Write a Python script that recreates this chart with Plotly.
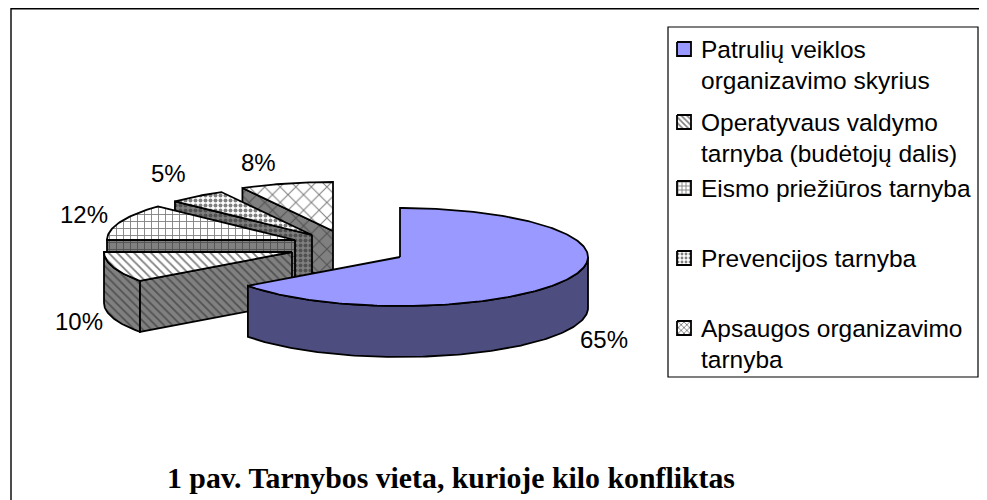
import math
import plotly.graph_objects as go

categories = ["Patrulių veiklos<br>organizavimo skyrius", "Operatyvaus valdymo<br>tarnyba (budėtojų dalis)",
              "Eismo priežiūros tarnyba", "Prevencijos tarnyba", "Apsaugos organizavimo<br>tarnyba"]
values = [65, 10, 12, 5, 8]
labels = ["65%", "10%", "12%", "5%", "8%"]
title = "1 pav. Tarnybos vieta, kurioje kilo konfliktas"

apex_x = [400, 292, 295, 312, 333]
apex_y = [257, 252, 240, 235, 231]
top_colors = ["#9999FF", "#FFFFFF", "#FFFFFF", "#FFFFFF", "#FFFFFF"]
side_colors = ["#4D4D80", "#808080", "#808080", "#808080", "#808080"]
patterns = ["", "\\", "+", ".", "x"]
pattern_sizes = [6, 6, 7, 5, 11]
pattern_solidity = [0.3, 0.3, 0.24, 0.5, 0.18]
label_x = [604, 79, 84, 168, 258]
label_y = [339, 321, 214, 173, 162]
legend_y = [49, 122, 188, 258, 328]

RX, RY, DEPTH = 188, 49, 51
FONT = "Liberation Sans"


def pt(i, deg, drop=0):
    a = math.radians(deg)
    return apex_x[i] + RX * math.sin(a), apex_y[i] - RY * math.cos(a) + drop


def arc(i, a0, a1, drop=0):
    n = max(2, int(abs(a1 - a0)) + 1)
    return [pt(i, a0 + (a1 - a0) * k / (n - 1), drop) for k in range(n)]


def poly(points, fill, pat, size=6, solidity=0.3, fg="#000000", width=1.8):
    xs = [p[0] for p in points] + [points[0][0]]
    ys = [p[1] for p in points] + [points[0][1]]
    kw = {}
    if pat:
        kw["fillpattern"] = dict(shape=pat, bgcolor=fill, fgcolor=fg, size=size, solidity=solidity)
    return go.Scatter(x=xs, y=ys, mode="lines", fill="toself", fillcolor=fill,
                      line=dict(color="#000000", width=width), hoverinfo="skip", showlegend=False, **kw)


fig = go.Figure()
total = sum(values)
starts = []
acc = 0
for v in values:
    starts.append(acc / total * 360)
    acc += v

for i in [4, 3, 2, 1, 0]:
    a0 = starts[i]
    a1 = a0 + values[i] / total * 360
    centre = (apex_x[i], apex_y[i])
    sz, so = pattern_sizes[i], pattern_solidity[i]
    # radial cut face at the slice's starting edge
    if a0 >= 180:
        p = pt(i, a0)
        face = [centre, p, (p[0], p[1] + DEPTH), (centre[0], centre[1] + DEPTH)]
        fig.add_trace(poly(face, side_colors[i], patterns[i], size=sz, solidity=so, fg="#222222"))
    # visible part of the outer rim
    lo, hi = max(a0, 90), min(a1, 270)
    if lo < hi:
        rim = arc(i, lo, hi) + arc(i, hi, lo, DEPTH)
        fig.add_trace(poly(rim, side_colors[i], patterns[i], size=sz, solidity=so, fg="#222222"))
    # top face
    top = [centre] + arc(i, a0, a1)
    fig.add_trace(poly(top, top_colors[i], patterns[i], size=sz, solidity=so))

# legend
for i, name in enumerate(categories):
    s = 7
    sw = [(677, legend_y[i] - s), (691, legend_y[i] - s), (691, legend_y[i] + s), (677, legend_y[i] + s)]
    fig.add_trace(poly(sw, top_colors[i], patterns[i], size=4, solidity=0.4))
    for k, line in enumerate(name.split("<br>")):
        fig.add_annotation(x=699, y=legend_y[i] + k * 31, text=line, showarrow=False, xanchor="left",
                           yanchor="middle", font=dict(family=FONT, size=24.5, color="#000000"))

for i, t in enumerate(labels):
    fig.add_annotation(x=label_x[i], y=label_y[i], text=t, showarrow=False,
                       font=dict(family=FONT, size=24, color="#000000"))

fig.add_annotation(x=451, y=477, text="<b>" + title + "</b>", showarrow=False,
                   font=dict(family="Liberation Serif", size=29.8, color="#000000"))

fig.add_shape(type="rect", x0=668, y0=27, x1=978, y1=377, line=dict(color="#000000", width=1.2), layer="below")
fig.add_shape(type="rect", x0=11, y0=8.7, x1=1100, y1=600, line=dict(color="#000000", width=1.4), layer="below")

# the page adds an 8 px margin, so the axes are shifted to keep picture coordinates
fig.update_layout(width=987, height=500, margin=dict(l=0, r=0, t=0, b=0), autosize=False,
                  paper_bgcolor="#FFFFFF", plot_bgcolor="#FFFFFF", showlegend=False,
                  xaxis=dict(range=[8, 995], visible=False, fixedrange=True),
                  yaxis=dict(range=[508, 8], visible=False, fixedrange=True))
fig.write_html("out.html", config=dict(displayModeBar=False))
